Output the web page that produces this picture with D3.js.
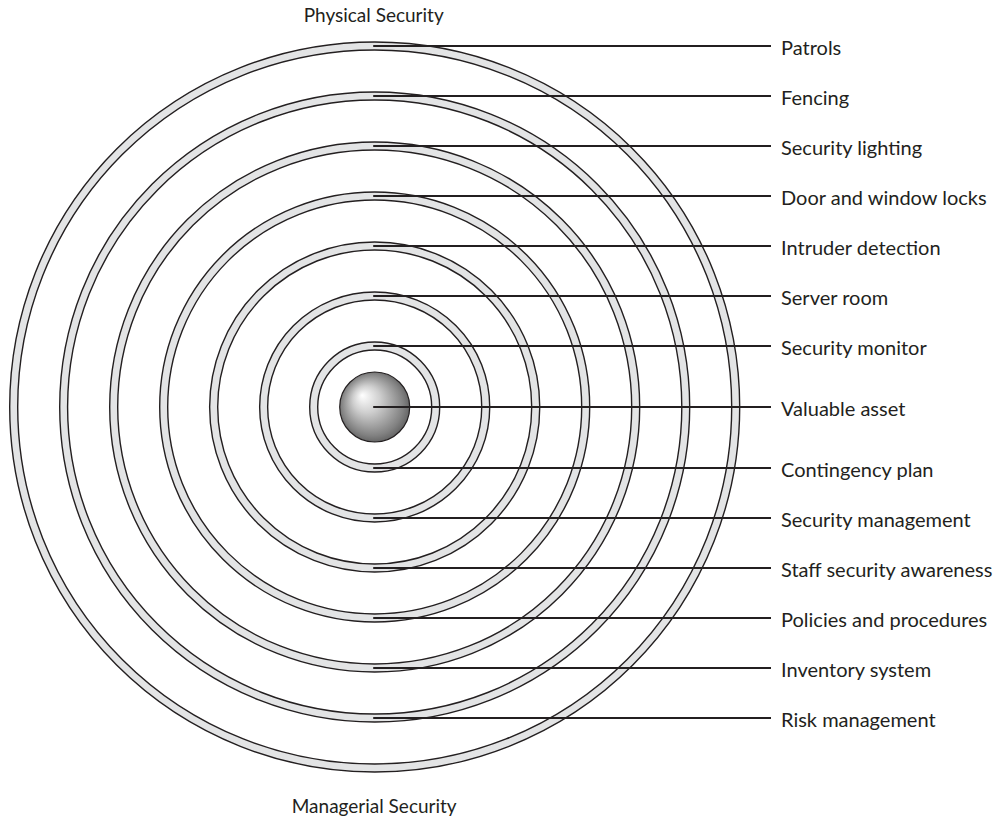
<!DOCTYPE html>
<html>
<head>
<meta charset="utf-8">
<script src="https://cdn.jsdelivr.net/npm/d3@7"></script>
<style>
  html, body { margin: 0; padding: 0; background: #fff; }
  svg { display: block; }
  text { font-family: Lato, "Open Sans", sans-serif; fill: #231f20; }
</style>
</head>
<body>
<svg id="chart" width="1002" height="819"></svg>
<script>
// ---- data ----
const titleTop = "Physical Security";
const titleBottom = "Managerial Security";
// rings, numbered from the centre outwards
const ringLayers = [1, 2, 3, 4, 5, 6, 7];
// labels on the top edge of rings (outermost first)
const topLabels = ["Patrols", "Fencing", "Security lighting", "Door and window locks",
                   "Intruder detection", "Server room", "Security monitor"];
const topLayers = [7, 6, 5, 4, 3, 2, 1];
// centre label
const centerLabel = "Valuable asset";
// labels on the bottom edge of rings (innermost first)
const bottomLabels = ["Contingency plan", "Security management", "Staff security awareness",
                      "Policies and procedures", "Inventory system", "Risk management"];
const bottomLayers = [1, 2, 3, 4, 5, 6];

// ---- layout ----
const svg = d3.select("#chart");
const cx = 374.7, cy = 407;
const band = 8;
const ink = "#231f20";
const r = d3.scaleLinear().domain([0, 7]).range([15, 365]); // outer radius of ring
const lineEnd = 771, labelX = 781;

const defs = svg.append("defs");
const grad = defs.append("radialGradient").attr("id", "sphere")
  .attr("cx", "0.5").attr("cy", "0.5").attr("r", "0.55")
  .attr("fx", "0.32").attr("fy", "0.33");
grad.append("stop").attr("offset", "0%").attr("stop-color", "#ffffff");
grad.append("stop").attr("offset", "35%").attr("stop-color", "#cfcfcf");
grad.append("stop").attr("offset", "80%").attr("stop-color", "#828282");
grad.append("stop").attr("offset", "100%").attr("stop-color", "#575757");

const g = svg.append("g").attr("transform", `translate(${cx},${cy})`);
const arc = d3.arc();

g.selectAll("path.ring").data(ringLayers).join("path")
  .attr("class", "ring")
  .attr("d", d => arc({innerRadius: r(d) - band, outerRadius: r(d), startAngle: 0, endAngle: 2 * Math.PI}))
  .attr("fill", "#e3e4e5")
  .attr("stroke", ink)
  .attr("stroke-width", 1.4);

g.append("circle").attr("r", 35)
  .attr("fill", "url(#sphere)")
  .attr("stroke", ink).attr("stroke-width", 1.2);

// leader lines + labels
const items = [];
topLabels.forEach((t, i) => items.push({text: t, y: -(r(topLayers[i]) - band / 2)}));
items.push({text: centerLabel, y: 0});
bottomLabels.forEach((t, i) => items.push({text: t, y: r(bottomLayers[i]) - band / 2}));

g.selectAll("line.leader").data(items).join("line")
  .attr("class", "leader")
  .attr("x1", -1.5).attr("x2", lineEnd - cx)
  .attr("y1", d => d.y).attr("y2", d => d.y)
  .attr("stroke", ink).attr("stroke-width", 2.2);

g.selectAll("text.lbl").data(items).join("text")
  .attr("class", "lbl")
  .attr("x", labelX - cx)
  .attr("y", d => d.y + 9)
  .attr("font-size", 20)
  .text(d => d.text);

svg.append("text").attr("x", cx - 1).attr("y", 21.7)
  .attr("text-anchor", "middle").attr("font-size", 19).text(titleTop);
svg.append("text").attr("x", cx - 0.5).attr("y", 813.3)
  .attr("text-anchor", "middle").attr("font-size", 19).text(titleBottom);
</script>
</body>
</html>
